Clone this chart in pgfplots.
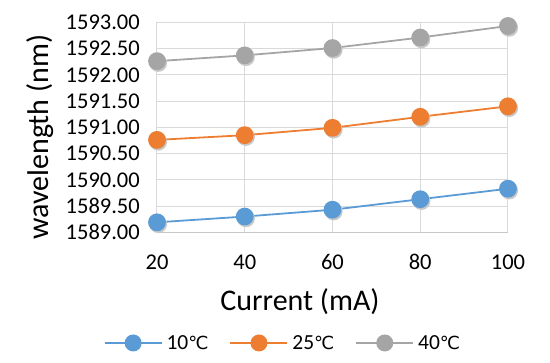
\documentclass[border=0pt]{standalone}
\usepackage{fontspec}
\setmainfont{Carlito}
\newfontfamily\dejavu{DejaVu Sans}
\usepackage{pgfplots}
\pgfplotsset{compat=1.18}
\definecolor{cblue}{HTML}{5B9BD5}
\definecolor{corange}{HTML}{ED7D31}
\definecolor{cgray}{HTML}{A5A5A5}
\definecolor{cgrid}{HTML}{D9D9D9}
\definecolor{caxis}{HTML}{C8C8C8}
\definecolor{cshadow}{HTML}{C8C8C8}
\newcommand{\degc}{{\dejavu\fontsize{18bp}{20bp}\selectfont ℃}}
\begin{document}
\begin{tikzpicture}
\begin{axis}[
  scale only axis,
  width=351bp, height=210bp,
  xmin=20, xmax=100, ymin=1589, ymax=1593,
  xtick={20,40,60,80,100},
  ytick={1589,1589.5,...,1593},
  /pgf/number format/assume math mode=true,
  yticklabel style={/pgf/number format/fixed, /pgf/number format/fixed zerofill, /pgf/number format/precision=2, /pgf/number format/1000 sep={}},
  ticklabel style={font=\fontsize{22.5bp}{24bp}\selectfont, inner sep=0pt},
  yticklabel style={anchor=east, xshift=-17bp},
  xticklabel style={anchor=north, yshift=-22bp},
  grid=major,
  major grid style={cgrid, line width=1pt},
  axis x line*=bottom,
  axis y line*=left,
  y axis line style={draw=none},
  x axis line style={caxis, line width=1.2pt, -},
  tick style={draw=none},
  xlabel={Current (mA)},
  ylabel={wavelength (nm)},
  label style={inner sep=0pt},
  xlabel style={font=\fontsize{30bp}{34bp}\selectfont, at={(axis description cs:0.4074,0)}, anchor=base, yshift=-77.7bp},
  ylabel style={font=\fontsize{30bp}{34bp}\selectfont, at={(axis description cs:-0.3333,0.4524)}, anchor=center},
  clip=false,
  legend columns=3,
  legend style={draw=none, fill=none, at={(axis description cs:0.3618,-0.527)}, anchor=center,
    font=\fontsize{21.5bp}{24bp}\selectfont, inner sep=0pt,
    nodes={inner xsep=4bp, inner ysep=0pt},
    /tikz/every even column/.append style={column sep=17bp}},
  legend image code/.code={\draw[#1, mark=none, line width=1.8pt] (0bp,0bp) -- (57bp,0bp); \fill[#1, draw=none] (28.5bp,0bp) circle (8.5bp);},
  every axis plot/.append style={line width=1.8pt, mark=*, mark size=8bp},
]
\addplot[color=cshadow, only marks, forget plot, mark options={fill=cshadow, draw=none, xshift=1.2bp, yshift=-1.8bp}] coordinates {(20,1589.19) (40,1589.30) (60,1589.43) (80,1589.63) (100,1589.83)};
\addplot[color=cshadow, only marks, forget plot, mark options={fill=cshadow, draw=none, xshift=1.2bp, yshift=-1.8bp}] coordinates {(20,1590.76) (40,1590.85) (60,1590.99) (80,1591.20) (100,1591.40)};
\addplot[color=cshadow, only marks, forget plot, mark options={fill=cshadow, draw=none, xshift=1.2bp, yshift=-1.8bp}] coordinates {(20,1592.26) (40,1592.37) (60,1592.51) (80,1592.71) (100,1592.93)};
\addplot[cblue, mark options={fill=cblue, draw=none}] coordinates {(20,1589.19) (40,1589.30) (60,1589.43) (80,1589.63) (100,1589.83)};
\addlegendentry{10\degc}
\addplot[corange, mark options={fill=corange, draw=none}] coordinates {(20,1590.76) (40,1590.85) (60,1590.99) (80,1591.20) (100,1591.40)};
\addlegendentry{25\degc}
\addplot[cgray, mark options={fill=cgray, draw=none}] coordinates {(20,1592.26) (40,1592.37) (60,1592.51) (80,1592.71) (100,1592.93)};
\addlegendentry{40\degc}
\end{axis}
\path (-157bp,-130.7bp) rectangle (393bp,232.3bp);
\end{tikzpicture}
\end{document}
